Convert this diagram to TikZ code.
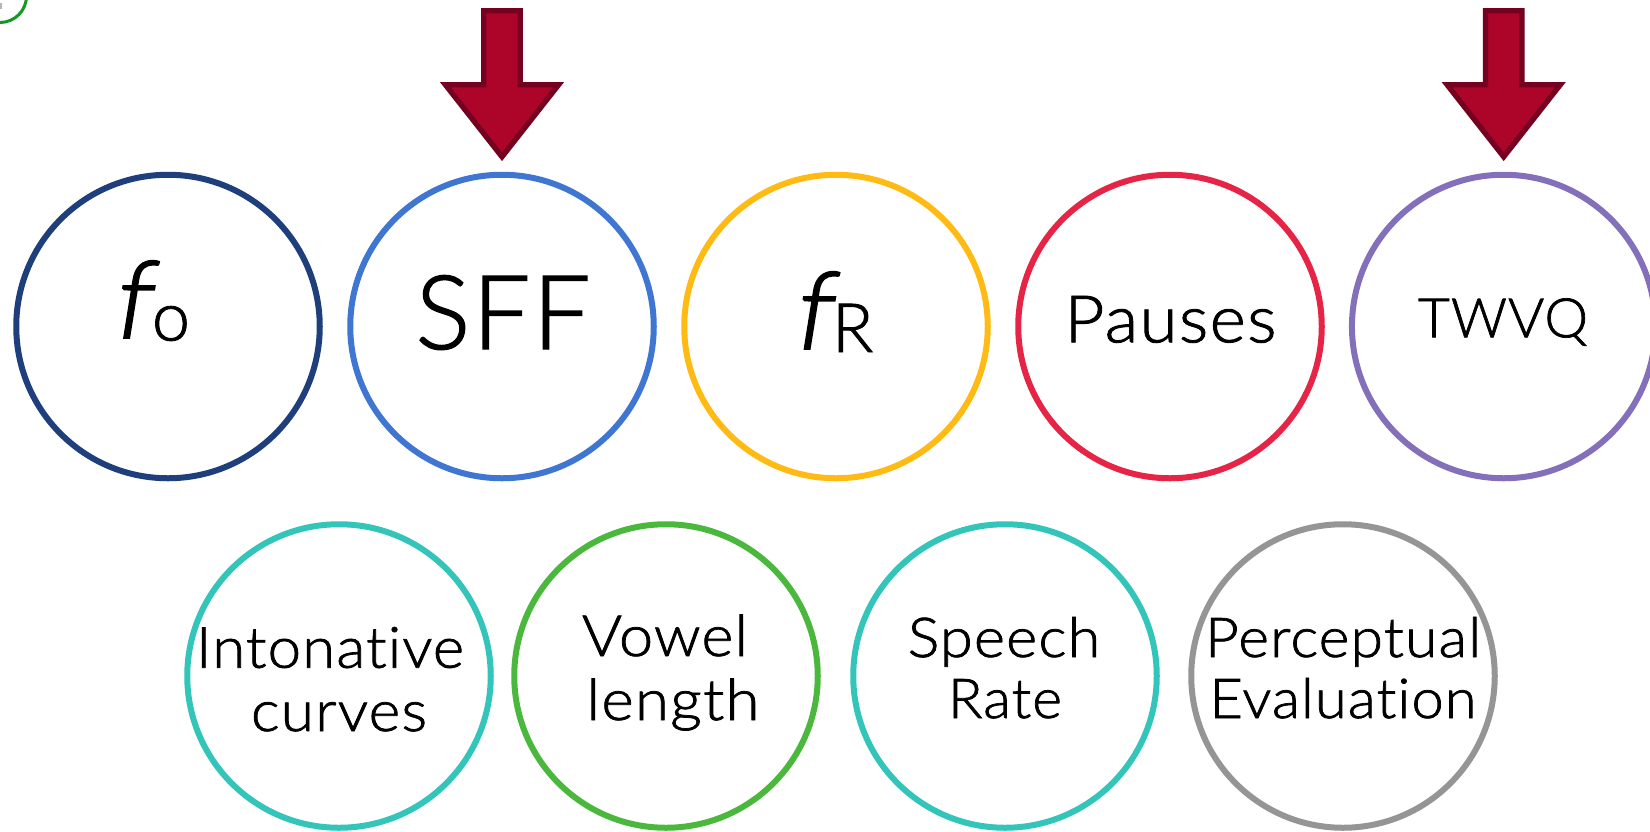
\documentclass[tikz,border=0pt]{standalone}
\usepackage{fontspec}
\setmainfont{Lato Light}[Ligatures=NoCommon,LetterSpace=2,FakeBold=1.3]
\newfontfamily\slantf{Lato Light}[FakeSlant=0.16,FakeBold=1.6,Ligatures=NoCommon]
\definecolor{cnavy}{HTML}{1F3F7C}
\definecolor{cblue}{HTML}{3F76D2}
\definecolor{cyellow}{HTML}{FFBB14}
\definecolor{cred}{HTML}{E52446}
\definecolor{cpurple}{HTML}{8470BA}
\definecolor{cteal}{HTML}{33C4BA}
\definecolor{cgreen}{HTML}{4AB83C}
\definecolor{cgray}{HTML}{959595}
\definecolor{cmark}{HTML}{109B20}
\definecolor{arrowfill}{HTML}{AD0529}
\definecolor{arrowline}{HTML}{750020}
\tikzset{
  ring/.style={circle,draw=#1,line width=6pt,minimum size=303.5pt,inner sep=0pt,outer sep=0pt},
  txt/.style={anchor=base,inner sep=0pt,outer sep=0pt,text=black},
  blockarrow/.style={fill=arrowfill,draw=arrowline,line width=5.3pt,miter limit=10}
}
\newcommand{\blockat}[1]{%
  \draw[blockarrow,shift={(#1)}] (-18.3,10.65) -- (18.3,10.65) -- (18.3,84.65) -- (56.7,84.65) -- (0,156.8) -- (-56.7,84.65) -- (-18.3,84.65) -- cycle;}
\newcommand{\fitw}[3]{\resizebox{#1pt}{\height}{\fontsize{#2}{#2}\selectfont #3}}
\begin{document}
\begin{tikzpicture}[x=1pt,y=-1pt]
\useasboundingbox (0,0) rectangle (1650,831);
\begin{scope}
\clip (0,0) rectangle (1650,831);
\fill[white] (0,0) rectangle (1650,831);
\draw[cmark,line width=3pt] (0,-4) circle[radius=26.5];
\fill[cgray!70] (0,3) rectangle (1.7,9);
\node[ring=cnavy] (fo) at (168,326.5) {};
\node[ring=cblue] (sff) at (502,326.5) {};
\node[ring=cyellow] (fr) at (836,326.5) {};
\node[ring=cred] (pauses) at (1170,326.5) {};
\node[ring=cpurple] (twvq) at (1503.7,326.5) {};
\node[ring=cteal] (into) at (339,676) {};
\node[ring=cgreen] (vowel) at (666,676) {};
\node[ring=cteal] (speech) at (1005,676) {};
\node[ring=cgray] (perc) at (1343,676) {};
\blockat{502,0}
\blockat{1503.7,0}
\end{scope}
\node[txt] (tsff) at (503,349) {\fitw{175}{103}{SFF}};
\node[txt] (ttwvq) at (1503,337.3) {\fitw{170}{54.5}{TWVQ}};
\node[txt] (tpauses) at (1170.5,342.3) {\fitw{212}{65.5}{Pauses}};
\node[txt] (t1) at (330,667.7) {\fitw{268}{57}{Intonative}};
\node[txt] (t2) at (339,731) {\fitw{176}{57}{curves}};
\node[txt] (t3) at (665,656) {\fitw{166}{57}{Vowel}};
\node[txt] (t4) at (673,720) {\fitw{173}{57}{length}};
\node[txt] (t5) at (1004,657) {\fitw{192.5}{55}{Speech}};
\node[txt] (t6) at (1005,718) {\fitw{114}{55}{Rate}};
\node[txt] (t7) at (1343,657) {\fitw{276}{55}{Perceptual}};
\node[txt] (t8) at (1343,718) {\fitw{267}{55}{Evaluation}};
\node[txt,anchor=base west,font=\fontsize{68}{68}\selectfont] (tfo) at (112,338) {\makebox[40pt][l]{\fontsize{108}{108}\selectfont\slantf f}\raisebox{-2.5pt}{o}};
\node[txt,anchor=base west,font=\fontsize{68}{68}\selectfont] (tfr) at (792.5,349) {\makebox[39.5pt][l]{\fontsize{108}{108}\selectfont\slantf f}\raisebox{-3pt}{R}};
\end{tikzpicture}
\end{document}
